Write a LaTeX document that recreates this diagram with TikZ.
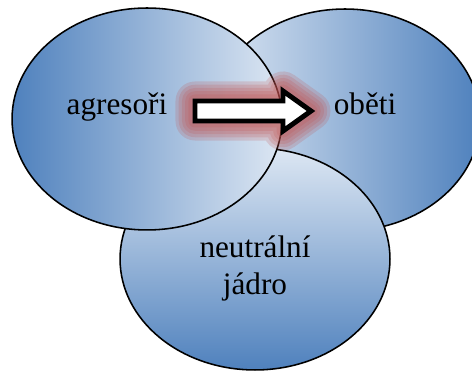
\documentclass[tikz,border=0pt]{standalone}
\usepackage{fontspec}
\setmainfont{Liberation Serif}
\usepackage{xcolor}
\usepackage{tikz}
\usetikzlibrary{shapes.geometric}

\definecolor{vennDark}{RGB}{79,129,189}
\definecolor{vennLight}{RGB}{221,231,243}
\definecolor{glowRed}{RGB}{192,80,77}

\begin{document}
\begin{tikzpicture}[x=0.0135cm, y=-0.0135cm,
	venn/.style = {ellipse, draw, line width=0.6pt, inner sep=0pt, minimum width=3.645cm, minimum height=2.997cm},
	lbl/.style = {font=\fontsize{12}{14.5}\selectfont, inner sep=0pt, align=center},
	glow/.style = {draw=glowRed, draw opacity=0.2, line join=round},
	arrowBox/.style = {draw, fill=white, line width=1.9pt, line join=miter}]
					\def\W{472};
					\def\H{372};

					\newcommand{\drawArrow}[1]
					{
						\draw [#1] (195,101) -- (283,101) -- (283,91) -- (311,111) -- (283,131) -- (283,121) -- (195,121) -- cycle;
					}

					\clip (0,0) rectangle (\W,\H);

					\begin{scope}
						\node (obe) [venn, left color=vennLight, right color=vennDark] at (345,120) {};
						\node (neu) [venn, top color=vennLight, bottom color=vennDark] at (255,259) {};
						\node (agr) [venn, left color=vennDark, right color=vennLight] at (147,119) {};
					\end{scope}

					\begin{scope}
						\foreach \w in {15,12.5,10,7.5,5}
						{
							\drawArrow{glow, line width=\w pt}
						}
						\drawArrow{arrowBox}
					\end{scope}

					\node (agrText) [lbl, anchor=base] at (117,115) {agresoři};
					\node (obeText) [lbl, anchor=base] at (365,115) {oběti};
					\node (neuText) [lbl, anchor=base] at (255,295) {neutrální\\jádro};

				\end{tikzpicture}
\end{document}
